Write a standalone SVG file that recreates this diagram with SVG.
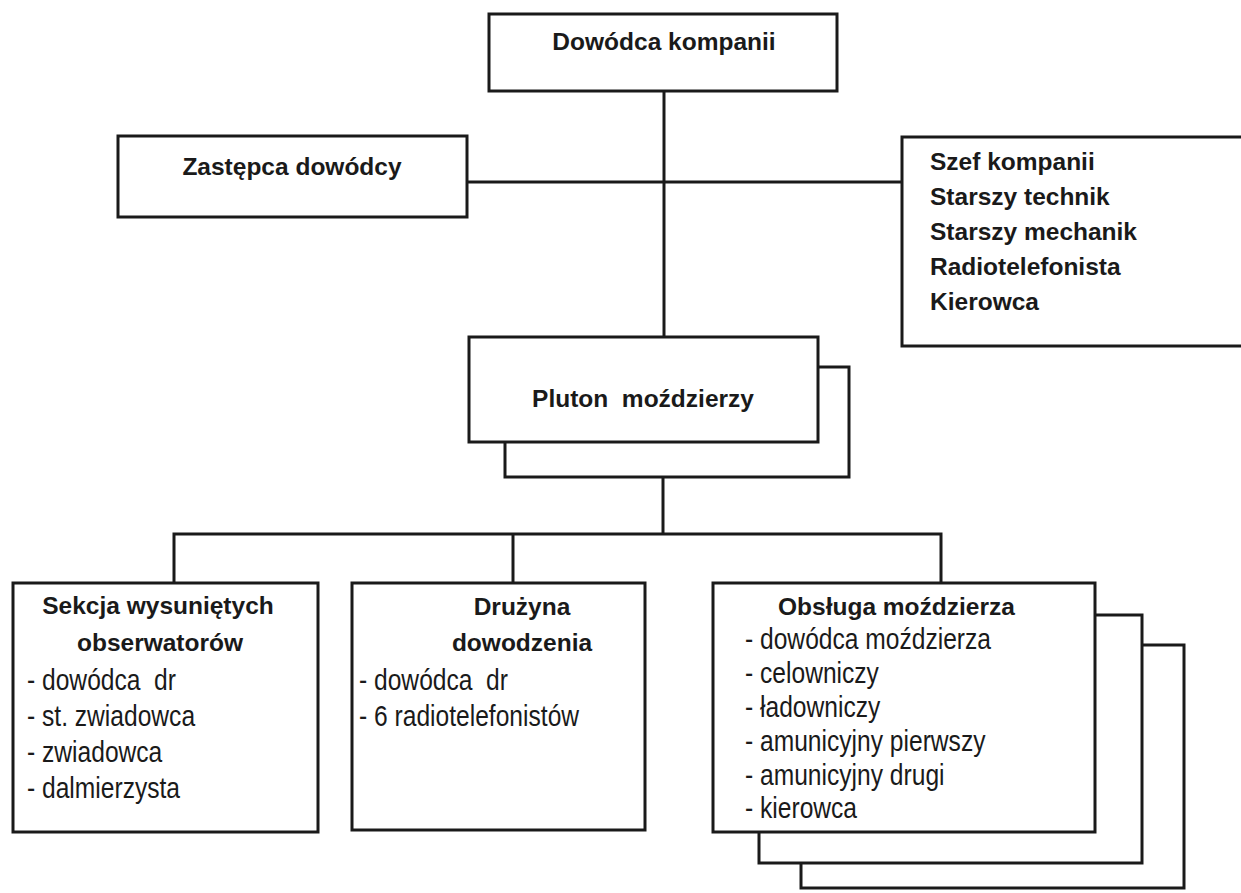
<svg xmlns="http://www.w3.org/2000/svg" width="1241" height="893" viewBox="0 0 1241 893">
<style>
.box{fill:#fff;stroke:#1a1a1a;stroke-width:3}
.ln{fill:none;stroke:#1a1a1a;stroke-width:3}
.b{font-family:"Liberation Sans",Arial,sans-serif;font-weight:bold;font-size:24.5px;fill:#1a1a1a}
.r{font-family:"Liberation Sans",Arial,sans-serif;font-size:30px;fill:#1a1a1a}
.c{text-anchor:middle}
</style>
<rect width="1241" height="893" fill="#fff"/>
<g id="connectors">
<path class="ln" d="M664 91V337"/>
<path class="ln" d="M467 182H902"/>
<path class="ln" d="M663 477V534"/>
<path class="ln" d="M174 583V534H941V583"/>
<path class="ln" d="M513 534V583"/>
</g>
<g id="dowodca">
<rect class="box" x="489" y="14" width="348" height="77"/>
<text class="b c" x="664" y="50">Dowódca kompanii</text>
</g>
<g id="zastepca">
<rect class="box" x="118" y="136" width="349" height="81"/>
<text class="b c" x="292" y="175">Zastępca dowódcy</text>
</g>
<g id="szef">
<rect class="box" x="902" y="137" width="350" height="209"/>
<text class="b" x="930" y="170">Szef kompanii</text>
<text class="b" x="930" y="205">Starszy technik</text>
<text class="b" x="930" y="240">Starszy mechanik</text>
<text class="b" x="930" y="275">Radiotelefonista</text>
<text class="b" x="930" y="310">Kierowca</text>
</g>
<g id="pluton">
<rect class="box" x="505" y="367" width="344" height="110"/>
<rect class="box" x="469" y="337" width="349" height="105"/>
<text class="b c" x="643" y="407" xml:space="preserve">Pluton  moździerzy</text>
</g>
<g id="sekcja">
<rect class="box" x="13" y="583" width="305" height="249"/>
<text class="b c" x="158" y="614">Sekcja wysuniętych</text>
<text class="b c" x="160" y="651">obserwatorów</text>
<text class="r" transform="translate(27 690) scale(0.82 1)" xml:space="preserve">- dowódca  dr</text>
<text class="r" transform="translate(27 726) scale(0.82 1)">- st. zwiadowca</text>
<text class="r" transform="translate(27 762) scale(0.82 1)">- zwiadowca</text>
<text class="r" transform="translate(27 798) scale(0.82 1)">- dalmierzysta</text>
</g>
<g id="druzyna">
<rect class="box" x="352" y="583" width="293" height="247"/>
<text class="b c" x="522" y="615">Drużyna</text>
<text class="b c" x="522" y="651">dowodzenia</text>
<text class="r" transform="translate(359 690) scale(0.82 1)" xml:space="preserve">- dowódca  dr</text>
<text class="r" transform="translate(359 726) scale(0.82 1)">- 6 radiotelefonistów</text>
</g>
<g id="obsluga">
<rect class="box" x="801" y="645" width="383" height="243"/>
<rect class="box" x="759" y="615" width="383" height="248"/>
<rect class="box" x="713" y="583" width="382" height="249"/>
<text class="b" x="778" y="615">Obsługa moździerza</text>
<text class="r" transform="translate(745 649) scale(0.82 1)">- dowódca moździerza</text>
<text class="r" transform="translate(745 683) scale(0.82 1)">- celowniczy</text>
<text class="r" transform="translate(745 717) scale(0.82 1)">- ładowniczy</text>
<text class="r" transform="translate(745 751) scale(0.82 1)">- amunicyjny pierwszy</text>
<text class="r" transform="translate(745 785) scale(0.82 1)">- amunicyjny drugi</text>
<text class="r" transform="translate(745 818) scale(0.82 1)">- kierowca</text>
</g>
</svg>
